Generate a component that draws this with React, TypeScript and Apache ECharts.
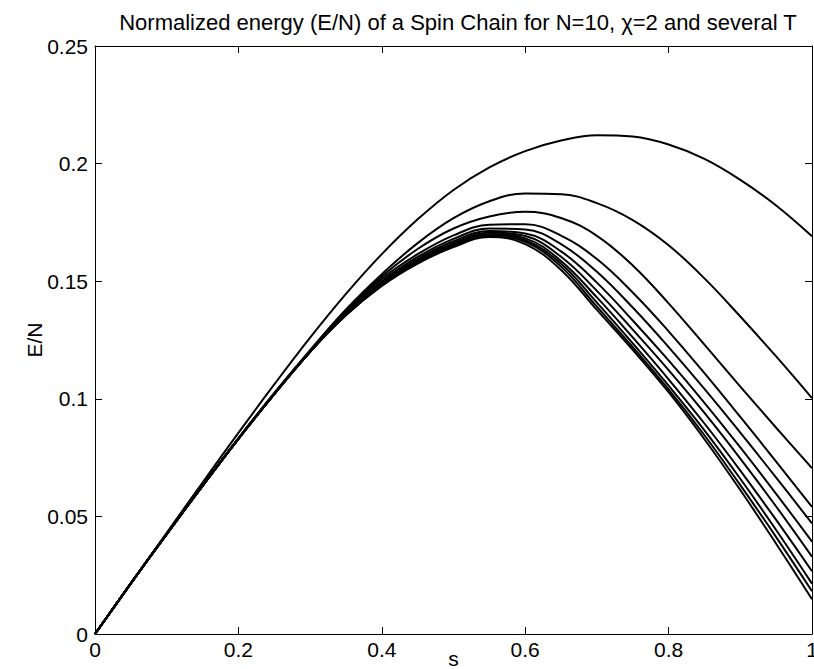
import React, { useEffect, useRef } from "react";
import * as echarts from "echarts";

const S = [0, 0.05, 0.1, 0.15, 0.2, 0.25, 0.3, 0.35, 0.4, 0.45, 0.5, 0.55, 0.6, 0.65, 0.7, 0.75, 0.8, 0.85, 0.9, 0.95, 1];

const T1 = [0, 0.0216, 0.043, 0.0644, 0.0855, 0.1061, 0.126, 0.1446, 0.1615, 0.1763, 0.1888, 0.1984, 0.2053, 0.2098, 0.2121, 0.2115, 0.2081, 0.202, 0.1931, 0.1822, 0.1691];
const T2 = [0, 0.0215, 0.0425, 0.0632, 0.0833, 0.1025, 0.1207, 0.138, 0.153, 0.1662, 0.1768, 0.184, 0.1873, 0.187, 0.1832, 0.176, 0.1653, 0.1512, 0.135, 0.118, 0.1003];
const T3 = [0, 0.0215, 0.0425, 0.0631, 0.0831, 0.1022, 0.1203, 0.1375, 0.152, 0.1637, 0.1724, 0.1775, 0.1795, 0.1769, 0.1693, 0.1567, 0.1406, 0.123, 0.1052, 0.0877, 0.0705];
const T4 = [0, 0.0215, 0.0425, 0.063, 0.083, 0.1021, 0.1202, 0.137, 0.151, 0.1615, 0.1695, 0.174, 0.1742, 0.1694, 0.1594, 0.1452, 0.1287, 0.1109, 0.0923, 0.0733, 0.0541];
const T5 = [0, 0.0215, 0.0425, 0.063, 0.083, 0.102, 0.1201, 0.1365, 0.15, 0.1603, 0.168, 0.1724, 0.172, 0.1658, 0.154, 0.1388, 0.122, 0.1042, 0.0856, 0.0665, 0.047];
const T6 = [0, 0.0215, 0.0425, 0.063, 0.083, 0.102, 0.1201, 0.1362, 0.1495, 0.1595, 0.167, 0.1713, 0.1703, 0.1627, 0.1494, 0.1333, 0.1163, 0.0983, 0.0793, 0.0596, 0.0393];
const T7 = [0, 0.0215, 0.0425, 0.063, 0.083, 0.102, 0.12, 0.136, 0.149, 0.1589, 0.1662, 0.1706, 0.1692, 0.1604, 0.1459, 0.1294, 0.1122, 0.094, 0.0746, 0.0542, 0.0329];
const T8 = [0, 0.0215, 0.0425, 0.063, 0.083, 0.102, 0.12, 0.1358, 0.1487, 0.1584, 0.1656, 0.17, 0.1682, 0.1586, 0.1431, 0.1261, 0.1083, 0.0895, 0.0695, 0.0485, 0.0267];
const T9 = [0, 0.0215, 0.0425, 0.063, 0.083, 0.102, 0.12, 0.1357, 0.1484, 0.158, 0.1651, 0.1696, 0.1674, 0.1574, 0.1409, 0.1236, 0.1056, 0.0866, 0.066, 0.0442, 0.0214];
const T10 = [0, 0.0215, 0.0425, 0.063, 0.083, 0.102, 0.12, 0.1356, 0.1482, 0.1577, 0.1648, 0.1692, 0.1667, 0.1562, 0.1392, 0.122, 0.104, 0.0845, 0.0633, 0.0412, 0.0182];
const T11 = [0, 0.0215, 0.0425, 0.063, 0.083, 0.102, 0.12, 0.1355, 0.148, 0.1575, 0.1645, 0.1688, 0.1658, 0.1548, 0.1378, 0.1208, 0.1028, 0.0828, 0.0612, 0.0384, 0.0148];

const CURVES = [T1, T2, T3, T4, T5, T6, T7, T8, T9, T10, T11];

const TITLE = "Normalized energy (E/N) of a Spin Chain for N=10, \u03c7=2 and several T";
const FONT = "'Liberation Sans', Arial, Helvetica, sans-serif";

export default function App() {
  const ref = useRef<HTMLDivElement>(null);
  useEffect(() => {
    if (!ref.current) return;
    const chart = echarts.init(ref.current, null, { renderer: "svg" });
    const axisLine = { show: true, onZero: false, lineStyle: { color: "#000", width: 1 } };
    const tick = { show: true, inside: true, length: 7, lineStyle: { color: "#000", width: 1 } };
    const label = { color: "#000", fontSize: 21, fontFamily: FONT };
    chart.setOption({
      animation: false,
      backgroundColor: "#fff",
      title: {
        text: TITLE,
        left: 453,
        textAlign: "center",
        top: 6,
        textStyle: { color: "#000", fontSize: 22, fontWeight: "normal", fontFamily: FONT },
      },
      grid: { left: 95, right: 2, top: 46, bottom: 35, containLabel: false, outerBoundsMode: "none" },
      xAxis: [
        {
          type: "value", min: 0, max: 1, interval: 0.2, position: "bottom",
          name: "s", nameLocation: "middle", nameGap: 14, nameMoveOverlap: false,
          nameTextStyle: { color: "#000", fontSize: 21, fontFamily: FONT },
          axisLine, axisTick: tick, axisLabel: { ...label, margin: 5 }, splitLine: { show: false },
        },
        {
          type: "value", min: 0, max: 1, interval: 0.2, position: "top",
          axisLine, axisTick: tick, axisLabel: { show: false }, splitLine: { show: false },
        },
      ],
      yAxis: [
        {
          type: "value", min: 0, max: 0.25, interval: 0.05, position: "left",
          name: "E/N", nameLocation: "middle", nameGap: 50, nameRotate: 90, nameMoveOverlap: false,
          nameTextStyle: { color: "#000", fontSize: 21, fontFamily: FONT },
          axisLine, axisTick: tick, axisLabel: { ...label, margin: 7 }, splitLine: { show: false },
        },
        {
          type: "value", min: 0, max: 0.25, interval: 0.05, position: "right",
          axisLine, axisTick: tick, axisLabel: { show: false }, splitLine: { show: false },
        },
      ],
      series: CURVES.map((c, i) => ({
        type: "line",
        name: "T" + (i + 1),
        xAxisIndex: 0,
        yAxisIndex: 0,
        data: S.map((s, j) => [s, c[j]]),
        showSymbol: false,
        smooth: 0.4,
        lineStyle: { color: "#000", width: 2 },
      })),
    });
    return () => chart.dispose();
  }, []);
  return <div ref={ref} style={{ position: "fixed", left: 0, top: 0, width: 814, height: 669 }} />;
}
